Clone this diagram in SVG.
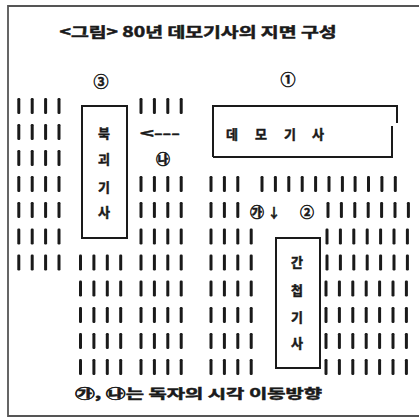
<svg xmlns="http://www.w3.org/2000/svg" xmlns:xlink="http://www.w3.org/1999/xlink" width="419" height="420" viewBox="0 0 419 420">
<style>
.t{font-family:"Noto Sans CJK KR","Noto Sans",sans-serif;fill:#1a1a1a;stroke:#1a1a1a;stroke-width:0.5;dominant-baseline:central;text-anchor:middle}
.b{font-weight:bold}
.box{fill:none;stroke:#1a1a1a;stroke-width:2}
.bar{fill:#1a1a1a}
.frame{fill:none;stroke:#555;stroke-width:1.8}
</style>
<defs>
<rect id="b" class="bar" x="-1.5" y="-8" width="3" height="16" rx="1.2"/>
<g id="g3"><use href="#b" x="0"/><use href="#b" x="13.4"/><use href="#b" x="26.8"/></g>
<g id="g4"><use href="#g3"/><use href="#b" x="40.2"/></g>
<g id="g7"><use href="#g4"/><use href="#g3" x="53.6"/></g>
<g id="g11"><use href="#g7" x="0"/><use href="#g4" x="93.1"/></g>
</defs>
<rect width="419" height="420" fill="#fff"/>
<path class="frame" d="M419 6 H8 V416 H419"/>

<g id="title"><text class="t b" x="198" y="31" font-size="14" textLength="277" lengthAdjust="spacingAndGlyphs">&lt;그림&gt; 80년 데모기사의 지면 구성</text></g>

<g id="text-columns">
<use href="#g4" x="18.8" y="106"/><use href="#g4" x="18.8" y="132"/><use href="#g4" x="18.8" y="158"/><use href="#g4" x="18.8" y="184"/><use href="#g4" x="18.8" y="210"/><use href="#g4" x="18.8" y="236.5"/><use href="#g4" x="18.8" y="262.5"/>
<use href="#g4" x="80.5" y="262.5"/><use href="#g4" x="80.5" y="288.5"/><use href="#g4" x="80.5" y="315"/><use href="#g4" x="80.5" y="341"/><use href="#g4" x="80.5" y="367"/>
<use href="#g4" x="141" y="106"/><use href="#g4" x="141" y="184"/><use href="#g4" x="141" y="210"/><use href="#g4" x="141" y="236.5"/><use href="#g4" x="141" y="262.5"/><use href="#g4" x="141" y="288.5"/><use href="#g4" x="141" y="315"/><use href="#g4" x="141" y="341"/><use href="#g4" x="141" y="367"/>
<use href="#g3" x="211" y="184"/><use href="#g3" x="211" y="210"/><use href="#g4" x="211" y="236.5"/><use href="#g4" x="211" y="262.5"/><use href="#g4" x="211" y="288.5"/><use href="#g4" x="211" y="315"/><use href="#g4" x="211" y="341"/><use href="#g4" x="211" y="367"/>
<use href="#g11" x="262" y="184"/>
<use href="#g7" x="328" y="210"/><use href="#g7" x="327" y="236.5"/><use href="#g7" x="327" y="262.5"/><use href="#g7" x="326" y="288.5"/><use href="#g7" x="326" y="315"/><use href="#g7" x="326" y="341"/><use href="#g7" x="326" y="367"/>
</g>

<g id="box-north">
<rect class="box" x="82" y="106" width="45" height="132"/>
<text class="t b" x="104" y="132" font-size="13">북</text>
<text class="t b" x="104" y="158" font-size="13">괴</text>
<text class="t b" x="104" y="186" font-size="13">기</text>
<text class="t b" x="104" y="211" font-size="13">사</text>
</g>

<g id="box-demo">
<path class="box" d="M213 157 V106 H397 V123 M392 126 V157 H213"/>
<text class="t b" x="232" y="133" font-size="13">데</text>
<text class="t b" x="261" y="133" font-size="13">모</text>
<text class="t b" x="290" y="133" font-size="13">기</text>
<text class="t b" x="318" y="133" font-size="13">사</text>
</g>

<g id="box-spy">
<rect class="box" x="276" y="238" width="44" height="130"/>
<text class="t b" x="297" y="261" font-size="13">간</text>
<text class="t b" x="297" y="289" font-size="13">첩</text>
<text class="t b" x="297" y="316" font-size="13">기</text>
<text class="t b" x="297" y="342" font-size="13">사</text>
</g>

<g id="labels">
<text class="t b" x="101" y="80" font-size="15">③</text>
<text class="t b" x="288" y="78" font-size="15">①</text>
<text class="t b" x="307" y="211" font-size="14">②</text>
<text class="t b" x="257" y="211" font-size="14">㉮</text>
<text class="t b" x="163" y="158" font-size="14">㉯</text>
</g>

<g id="connectors">
<text class="t b" x="160" y="132" font-size="13" textLength="40" lengthAdjust="spacingAndGlyphs">&lt;---</text>
<text class="t b" x="274" y="211" font-size="13">↓</text>
</g>

<g id="caption"><text class="t b" x="198.5" y="392" font-size="13" textLength="247" lengthAdjust="spacingAndGlyphs">㉮, ㉯는 독자의 시각 이동방향</text></g>
</svg>
